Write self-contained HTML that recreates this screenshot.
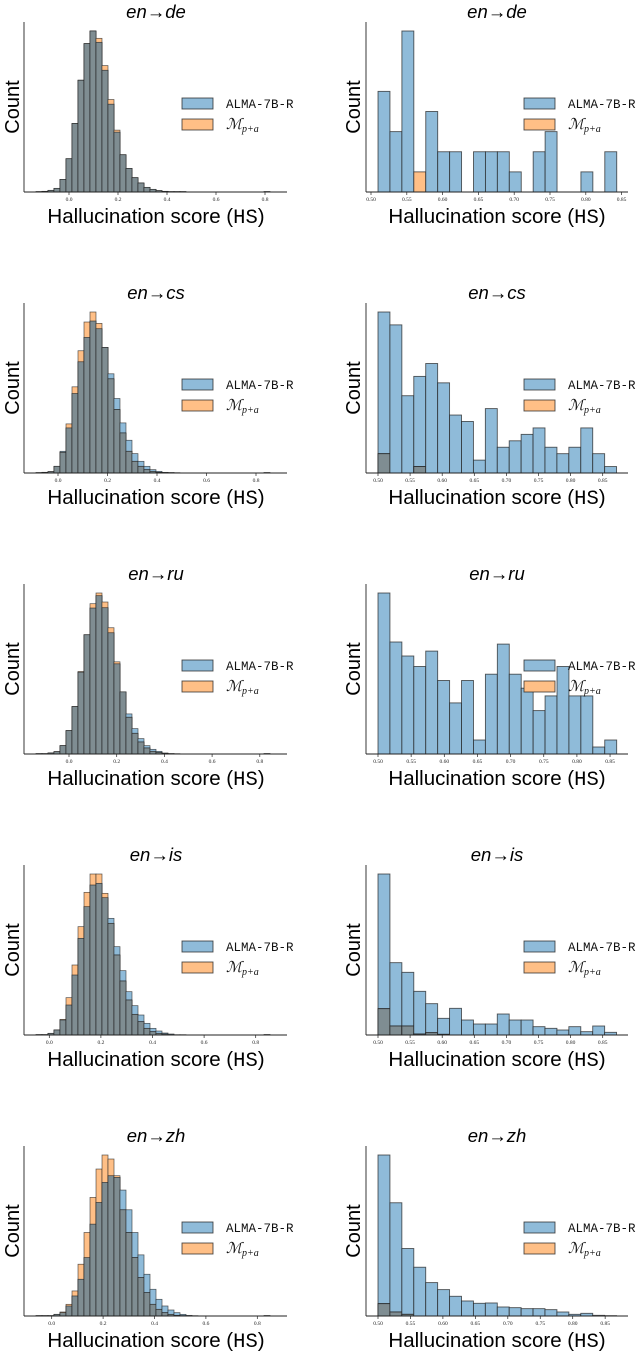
<!DOCTYPE html>
<html><head><meta charset="utf-8"><style>
body{margin:0;background:#fff;width:640px;height:1355px;overflow:hidden}
svg{display:block}
.tl{font-family:"Liberation Serif",serif;font-size:5.5px;fill:#222}
.xl{font-family:"Liberation Sans",sans-serif;font-size:20.5px;fill:#000}
.mono{font-family:"Liberation Mono",monospace}
.yl{font-family:"Liberation Sans",sans-serif;font-size:20px;fill:#000}
.tt{font-family:"Liberation Sans",sans-serif;font-size:18.5px;font-style:italic;fill:#000}
.lg{font-family:"Liberation Mono",monospace;font-size:12.5px;fill:#111}
.lm{font-family:"Liberation Serif",serif;font-size:15px;font-style:italic;fill:#111}
</style></head><body>
<svg id="chart" width="640" height="1355"></svg>
<script>
const pairs = ["en→de","en→cs","en→ru","en→is","en→zh"];
// left panels: full distribution, 40 bins
const leftBlue = [
[1,2,5,11,38,100,206,336,446,484,450,366,264,180,112,71,43,27,14,8,4,2,1,1,1,0,0,0,0,0,0,0,0,0,0,0,0,0,1,0],
[1,2,4,20,65,135,238,333,406,455,432,376,297,223,150,98,58,35,20,10,5,2,1,1,0,0,0,0,0,0,0,0,0,0,0,0,0,0,1,0],
[1,1,3,7,25,70,142,245,357,437,474,438,363,270,186,120,76,46,25,14,8,3,1,1,0,0,0,0,0,0,0,0,0,0,0,0,0,0,1,0],
[1,1,5,15,45,90,180,290,385,450,455,412,350,265,193,130,88,60,35,20,12,6,3,1,1,0,0,0,0,0,0,0,0,0,0,0,0,0,1,0],
[1,1,1,5,10,30,60,110,175,275,340,400,420,415,377,318,250,183,125,80,50,30,18,10,5,2,1,0,0,0,0,0,0,0,0,0,0,0,1,0]];
const leftOrange = [
[1,2,5,11,38,100,206,336,446,484,462,380,278,186,112,71,43,27,14,8,4,2,1,1,1,0,0,0,0,0,0,0,0,0,0,0,0,0,1,0],
[1,2,4,20,62,147,258,366,452,482,448,376,282,190,120,65,35,20,10,5,2,1,1,0,0,0,0,0,0,0,0,0,0,0,0,0,0,0,1,0],
[1,1,3,7,25,70,142,247,357,450,482,455,378,276,186,110,62,36,18,8,5,2,1,0,0,0,0,0,0,0,0,0,0,0,0,0,0,0,1,0],
[1,1,5,15,47,112,210,325,428,483,483,425,335,240,162,105,62,40,20,10,5,3,1,0,0,0,0,0,0,0,0,0,0,0,0,0,0,0,1,0],
[1,1,1,5,12,35,75,155,250,355,440,482,470,420,318,250,175,115,70,35,20,10,5,2,1,0,0,0,0,0,0,0,0,0,0,0,0,0,1,0]];
const leftEdge0 = [-0.1347,-0.0889,-0.1384,-0.0516,-0.0611];
const leftBinW = [0.02449,0.02424,0.02516,0.02326,0.02335];
const leftTicks = ["0.0","0.2","0.4","0.6","0.8"];
// right panels: HS > 0.5 tail, 20 bins
const rightBlue = [
[5,3,8,0,4,2,2,0,2,2,2,1,0,2,3,0,0,1,0,2],
[25,23,12,15,17,14,9,8,2,10,4,5,6,7,4,3,4,7,3,1],
[23,16,14,12.5,14.7,10.5,7.3,10.5,2,11.4,15.7,11.4,9.4,6.2,8.3,12.5,8.3,8.3,1,2],
[483,217,188,131,94,50,80,45,33,33,63,45,45,25,20,15,25,10,27,8],
[482,339,202,146,100,79,59,45,38,39,27,25,22,22,19,12,5,8,2,1]];
const rightOrange = [
[0,0,0,1,0,0,0,0,0,0,0,0,0,0,0,0,0,0,0,0],
[3,0,0,1,0,0,0,0,0,0,0,0,0,0,0,0,0,0,0,0],
[0,0,0,0,0,0,0,0,0,0,0,0,0,0,0,0,0,0,0,0],
[79,27,27,3,7,2,0,0,0,0,0,0,0,0,0,0,0,0,0,0],
[37,12,5,0,0,0,0,0,0,0,0,0,0,0,0,0,0,0,0,0]];
const rightEdge0 = [0.5098,0.5,0.5,0.5,0.5];
const rightBinW = [0.01667,0.01858,0.0180,0.01858,0.01838];
const rightTicks = ["0.50","0.55","0.60","0.65","0.70","0.75","0.80","0.85"];

// pixel calibration (layout, not data)
const leftZero = [69,58,69,49.3,51.7], leftPpu = [245,247.5,238.5,258,257];
const rightZero = [371,378,378,378,378], rightPpu = [716,642,663,642,649];

const NS="http://www.w3.org/2000/svg", svg=document.getElementById('chart');
function mk(tag,attrs,parent){const e=document.createElementNS(NS,tag);for(const k in attrs)e.setAttribute(k,attrs[k]);(parent||svg).appendChild(e);return e;}

function panel(r, side){
  const oy=281*r, bottom=192+oy, maxH=161;
  const left = side==='left';
  const ax0 = left?24:366, ax1 = left?287:628;
  const z = left?leftZero[r]:rightZero[r], ppu = left?leftPpu[r]:rightPpu[r];
  const base = left?0:0.5;
  const xs = v => z + (v-base)*ppu;
  const blue = left?leftBlue[r]:rightBlue[r], orange = left?leftOrange[r]:rightOrange[r];
  const e0 = left?leftEdge0[r]:rightEdge0[r], w = left?leftBinW[r]:rightBinW[r];
  const mx = Math.max(...blue,...orange);
  const ys = c => c/mx*maxH;
  const g = mk('g',{});
  
  
  const sw = left?0.7:0.9;
  for(let i=0;i<blue.length;i++){
    const xa = xs(e0+i*w), xb = xs(e0+(i+1)*w);
    const b=blue[i], o=orange[i];
    const hb=ys(b), ho=ys(o), hm=Math.min(hb,ho);
    if(b>0){
      const rb = mk('rect',{x:xa,y:bottom-hb,width:xb-xa,height:hb,fill:'#8fbbd9',stroke:'#222','stroke-opacity':0.75,'stroke-width':sw},g);
      
      
    }
    if(o>0){
      const ro = mk('rect',{x:xa,y:bottom-ho,width:xb-xa,height:ho,fill:'#ffbf86',stroke:'#222','stroke-opacity':0.75,'stroke-width':sw},g);
      
      
    }
    if(b>0&&o>0){
      const rm = mk('rect',{x:xa,y:bottom-hm,width:xb-xa,height:hm,fill:'#7f8d92',stroke:'#222','stroke-opacity':0.8,'stroke-width':sw},g);
      
      
    }
  }
  const ya = mk('line',{x1:ax0,y1:bottom,x2:ax0,y2:bottom-170,stroke:'#222','stroke-width':0.9});
  
  
  const xa = mk('line',{x1:ax0,y1:bottom,x2:ax1,y2:bottom,stroke:'#222','stroke-width':0.9});
  
  
  const ticks = left?leftTicks:rightTicks;
  ticks.forEach(t=>{
    const x=xs(parseFloat(t));
    mk('line',{x1:x,y1:bottom,x2:x,y2:bottom+3,stroke:'#222','stroke-width':0.7});
    const tx=mk('text',{x:x,y:bottom+9,'text-anchor':'middle',class:'tl'});
    tx.textContent=t;
    
    
  });
  const xl = mk('text',{x:left?156:497,y:bottom+31,'text-anchor':'middle',class:'xl'});
  xl.innerHTML='Hallucination score (<tspan class="mono">HS</tspan>)';
  
  
  const ylx = left?19:360;
  const yl = mk('text',{x:ylx,y:bottom-85,'text-anchor':'middle',class:'yl',transform:'rotate(-90 '+ylx+' '+(bottom-85)+')'});
  yl.textContent='Count';
  
  
  const tt = mk('text',{x:left?156:497,y:18+oy,'text-anchor':'middle',class:'tt'});
  tt.textContent=pairs[r];
  
  
  const lx = left?182:524, tx = left?226:568, ly = 98+oy;
  const lg = mk('g',{});
  
  
  mk('rect',{x:lx,y:ly,width:31,height:11,fill:'#8fbbd9',stroke:'#222','stroke-opacity':0.8,'stroke-width':0.9},lg);
  mk('rect',{x:lx,y:ly+21,width:31,height:11,fill:'#ffbf86',stroke:'#222','stroke-opacity':0.8,'stroke-width':0.9},lg);
  const l1=mk('text',{x:tx,y:ly+10,class:'lg'},lg); l1.textContent='ALMA-7B-R';
  
  
  const l2=mk('text',{x:tx,y:ly+31,class:'lm'},lg);
  l2.innerHTML='ℳ<tspan font-size="10" dy="3">p+a</tspan>';
  
  
}
for(let r=0;r<5;r++){panel(r,'left');panel(r,'right');}
</script>
</body></html>
